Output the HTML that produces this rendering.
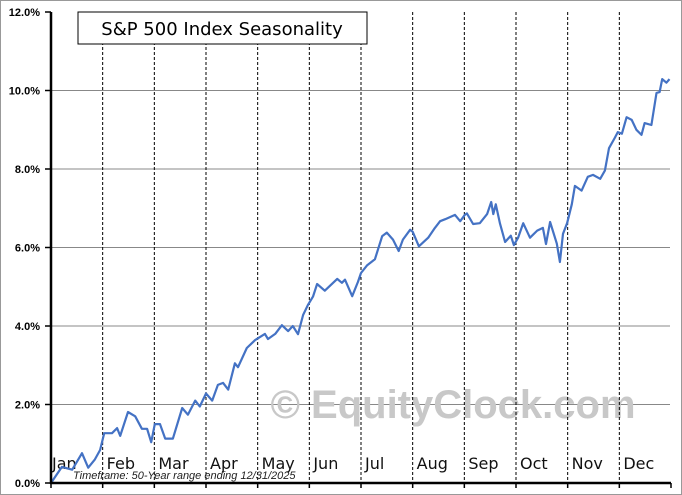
<!DOCTYPE html>
<html><head><meta charset="utf-8"><style>
body{margin:0;background:#fff}
svg{display:block}
text{font-family:"Liberation Sans",sans-serif}
.dv{font-family:"DejaVu Sans","Liberation Sans",sans-serif}
</style></head><body>
<svg id="chart" width="682" height="495" viewBox="0 0 682 495" xmlns="http://www.w3.org/2000/svg">
<rect x="0.5" y="0.5" width="681" height="494" fill="#fff" stroke="#999"/>
<g id="grid"></g>
<text x="453" y="418" font-size="40" font-weight="bold" fill="#c8c8c8" text-anchor="middle">© EquityClock.com</text>
<g id="vlines"></g>
<g id="labels"></g>
<path id="line" fill="none" stroke="#4472c4" stroke-width="2.2" stroke-linejoin="round"/>
<line x1="51" y1="12" x2="51" y2="484" stroke="#000" stroke-width="2.5"/>
<line x1="50" y1="483" x2="671" y2="483" stroke="#000" stroke-width="2.5"/>
<text x="73" y="479" font-size="11" font-style="italic" fill="#222">Timeframe:  50-Year range ending 12/31/2025</text>
<rect x="78" y="12" width="289" height="32" fill="#fff" stroke="#000"/>
<text class="dv" x="222" y="35" font-size="18" text-anchor="middle" fill="#000">S&amp;P 500 Index Seasonality</text>
</svg>
<script>
const months=["Jan","Feb","Mar","Apr","May","Jun","Jul","Aug","Sep","Oct","Nov","Dec"];
const yTicks=[0,2,4,6,8,10,12];
const monthPos=[0,.21,.41,.6,.72,.85,.95,1.03,1.18,1.28,1.34,1.49,1.63,1.76,1.86,1.94,2.01,2.11,2.21,2.36,2.54,2.65,2.79,2.88,3.0,3.12,3.23,3.33,3.43,3.56,3.62,3.79,3.95,4.14,4.2,4.34,4.47,4.59,4.68,4.78,4.88,4.97,5.07,5.15,5.3,5.54,5.63,5.69,5.83,5.94,6.0,6.12,6.27,6.41,6.5,6.62,6.73,6.81,6.95,7.0,7.12,7.3,7.43,7.53,7.63,7.82,7.92,8.01,8.05,8.17,8.3,8.44,8.52,8.56,8.61,8.69,8.79,8.9,8.96,9.04,9.14,9.27,9.41,9.52,9.58,9.66,9.79,9.85,9.91,9.99,10.08,10.14,10.27,10.39,10.49,10.63,10.72,10.8,10.91,10.97,11.05,11.14,11.24,11.33,11.43,11.49,11.62,11.72,11.78,11.83,11.91,11.97];
const values=[0,.41,.34,.76,.39,.6,.84,1.27,1.27,1.4,1.2,1.81,1.7,1.38,1.38,1.04,1.5,1.5,1.13,1.13,1.91,1.74,2.1,1.95,2.28,2.1,2.5,2.55,2.38,3.05,2.95,3.44,3.64,3.8,3.67,3.8,4.02,3.87,4.0,3.79,4.28,4.53,4.75,5.07,4.9,5.2,5.1,5.18,4.76,5.12,5.35,5.55,5.7,6.29,6.38,6.2,5.91,6.2,6.45,6.4,6.03,6.25,6.5,6.67,6.72,6.83,6.67,6.83,6.87,6.6,6.62,6.85,7.16,6.85,7.1,6.61,6.14,6.3,6.06,6.25,6.62,6.25,6.43,6.5,6.09,6.65,6.1,5.63,6.35,6.62,7.1,7.57,7.45,7.8,7.85,7.75,7.96,8.53,8.79,8.94,8.9,9.32,9.25,9.0,8.87,9.17,9.12,9.94,9.96,10.29,10.2,10.29];
const X0=51,X1=671,Y0=483,Y1=12;
function xs(m){return X0+m/12*(X1-X0);}
function ys(v){return Y0-v/12*(Y0-Y1);}
const NS="http://www.w3.org/2000/svg";
function mk(t,a,p){const e=document.createElementNS(NS,t);for(const k in a)e.setAttribute(k,a[k]);p.appendChild(e);return e;}
const grid=document.getElementById('grid'),vl=document.getElementById('vlines'),lb=document.getElementById('labels');
yTicks.forEach(v=>{
  if(v>0&&v<12){const g=mk('line',{x1:X0,x2:X1-1,y1:ys(v),y2:ys(v),stroke:'#888','stroke-width':1},grid);
  
  }
  const tk=mk('line',{x1:X0-6,x2:X0,y1:ys(v),y2:ys(v),stroke:'#000','stroke-width':1.5},grid);
  
  
  const t=mk('text',{x:40,y:ys(v)+4,'font-size':11,'font-weight':'bold','text-anchor':'end'},lb);
  t.textContent=v.toFixed(1)+'%';
  
  
});
months.forEach((m,i)=>{
  const x=xs(i);
  if(i>0){const l=mk('line',{x1:x,x2:x,y1:Y1,y2:Y0,stroke:'#000','stroke-width':1,'stroke-dasharray':'3,2'},vl);
  
  }
  const tk=mk('line',{x1:x,x2:x,y1:Y0,y2:Y0+5,stroke:'#000','stroke-width':1.5},vl);
  
  
  const t=mk('text',{x:x+(i==0?1:4),y:469,'font-size':16,fill:'#111','class':'dv'},lb);
  t.textContent=m;
  
  
});
const tkEnd=mk('line',{x1:X1,x2:X1,y1:Y0,y2:Y0+5,stroke:'#000','stroke-width':1.5},vl);


document.getElementById('line').setAttribute('d',monthPos.map((m,i)=>(i?'L':'M')+xs(m).toFixed(1)+','+ys(values[i]).toFixed(1)).join(''));
</script>
</body></html>
